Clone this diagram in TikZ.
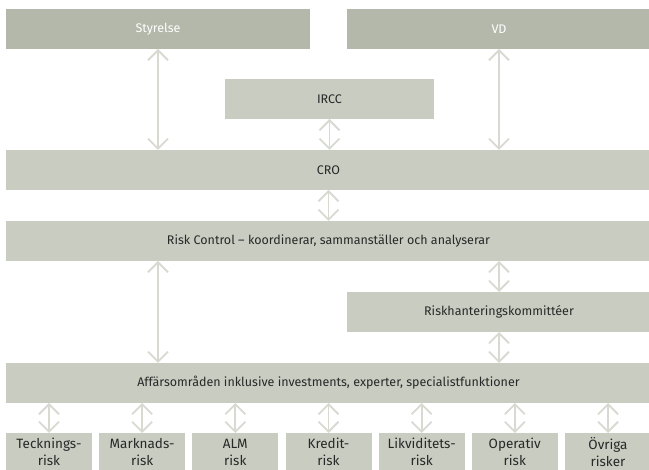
\documentclass[tikz,border=0pt]{standalone}
\usepackage{fontspec}
\setmainfont{Fira Sans}
\usetikzlibrary{arrows.meta}
\definecolor{darkbox}{RGB}{179,184,170}
\definecolor{lightbox}{RGB}{201,204,193}
\definecolor{arrowc}{RGB}{216,218,210}
\definecolor{txt}{RGB}{40,40,40}
\tikzset{
  topbox/.style={fill=darkbox, draw=none, text=white, inner sep=0pt, outer sep=0pt, minimum height=40pt, font=\fontsize{12.5}{14}\selectfont},
  midbox/.style={fill=lightbox, draw=none, text=txt, inner sep=0pt, outer sep=0pt, minimum height=40pt, font=\fontsize{12.5}{14}\selectfont},
  riskbox/.style={fill=lightbox, draw=none, text=txt, inner sep=0pt, outer sep=0pt, minimum width=86pt, minimum height=38pt, align=center, font=\fontsize{13.5}{17}\selectfont},
  arr/.style={draw=arrowc, line width=1.8pt, {Straight Barb[length=10pt,width=20pt]}-{Straight Barb[length=10pt,width=20pt]}}
}
\begin{document}
\begin{tikzpicture}[x=1pt,y=-1pt]
\useasboundingbox (0,0) rectangle (649,470);
\clip (0,0) rectangle (649,470);
\node[topbox, minimum width=304pt] (sty) at (158,29) {Styrelse};
\node[topbox, minimum width=304pt] (vd) at (499,29) {VD};
\node[midbox, minimum width=209pt] (ircc) at (329.5,99) {IRCC};
\node[midbox, minimum width=645pt] (cro) at (328.5,170) {CRO};
\node[midbox, minimum width=645pt] (rc) at (328.5,241) {Risk Control -- koordinerar, sammanställer och analyserar};
\node[midbox, minimum width=304pt] (rk) at (499,312) {Riskhanteringskommittéer};
\node[midbox, minimum width=645pt] (aff) at (328.5,383) {Affärsområden inklusive investments, experter, specialistfunktioner};
\node[riskbox] (b1) at (49.0,452) {Tecknings-\\risk};
\node[riskbox] (b2) at (142.2,452) {Marknads-\\risk};
\node[riskbox] (b3) at (235.3,452) {ALM\\risk};
\node[riskbox] (b4) at (328.5,452) {Kredit-\\risk};
\node[riskbox] (b5) at (421.7,452) {Likviditets-\\risk};
\node[riskbox] (b6) at (514.8,452) {Operativ\\risk};
\node[riskbox] (b7) at (608.0,452) {Övriga\\risker};
\draw[arr] (sty.south) -- (sty.south |- cro.north);
\draw[arr] (vd.south) -- (vd.south |- cro.north);
\draw[arr] (ircc.south) -- (ircc.south |- cro.north);
\draw[arr] (cro.south) -- (rc.north);
\draw[arr] (sty.south |- rc.south) -- (sty.south |- aff.north);
\draw[arr] (rk.north |- rc.south) -- (rk.north);
\draw[arr] (rk.south) -- (rk.south |- aff.north);
\foreach \b in {b1,b2,b3,b4,b5,b6,b7}
  \draw[arr] (\b.north |- aff.south) -- (\b.north);
\end{tikzpicture}
\end{document}
